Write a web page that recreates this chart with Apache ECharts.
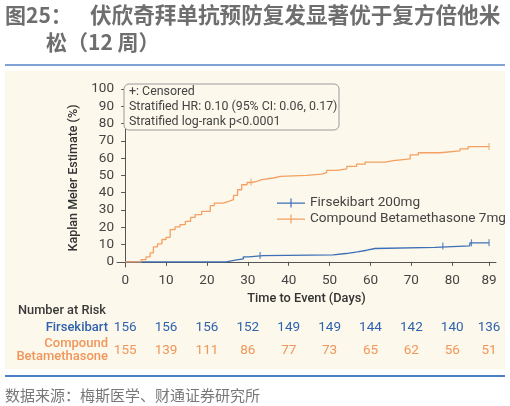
<!DOCTYPE html>
<html><head><meta charset="utf-8">
<script src="https://cdn.jsdelivr.net/npm/echarts@6/dist/echarts.min.js"></script>
<style>html,body{margin:0;padding:0;background:#fff}#c{width:510px;height:406px}</style>
</head><body><div id="c"></div>
<script>
// ---- data ----
const seriesNames = ['Firsekibart 200mg', 'Compound Betamethasone 7mg'];
// [day, KM estimate %] step points (value from that day onward)
const firsCurve = [[0,0],[24.7,1],[26.9,1.7],[28.9,2.9],[30.2,3.6],[33.8,4.0],[50.9,4.8],[54,5.8],[56.8,6.7],[59.1,7.7],[61.1,8.4],[75.8,9.2],[84.3,11],[89,11]];
const compCurve = [[0,0],[3.9,1.3],[5.1,2.9],[6.1,5.2],[6.9,8.7],[7.9,10.4],[9,12.9],[10,14.2],[11,18.6],[12.2,20.2],[13.4,21.5],[14.7,23.4],[16,25.7],[17.1,27.3],[18.7,29.2],[20.8,32.5],[21.8,34],[24,35],[25.3,36],[26.5,38.4],[27.5,41.7],[28.5,44.6],[29.8,45.9],[31,46.5],[32.2,47.5],[33.4,48.5],[36.3,49.4],[37.9,50],[44.4,50.8],[48.1,51.7],[49.3,52.9],[51.8,53.8],[54.2,55.2],[56.6,56.5],[58.7,57.7],[63.6,58.6],[65.6,59.6],[69.7,61.9],[71.7,63.1],[77,64.2],[81.9,65.4],[83.9,66.7],[89,66.7]];
const firsCensor = [[33,3.6],[77.7,9.2],[84.7,11],[89,11]];
const compCensor = [[30.8,46.2],[89,66.7]];
const xTicks = [0,10,20,30,40,50,60,70,80,89];
const yTicks = [0,10,20,30,40,50,60,70,80,90,100];
const riskFirs = [156,156,156,152,149,149,144,142,140,136];
const riskComp = [155,139,111,86,77,73,65,62,56,51];
const titleLine1a = '图25：';
const titleLine1b = '伏欣奇拜单抗预防复发显著优于复方倍他米';
const titleLine2 = '松（12 周）';
const sourceText = '数据来源：梅斯医学、财通证券研究所';
const noteLines = ['+: Censored','Stratified HR: 0.10 (95% CI: 0.06, 0.17)','Stratified log-rank p<0.0001'];

// ---- styles ----
const BLUE = '#3d6fb6', ORANGE = '#f3a062';
const BLUE_T = '#2f63ad', ORANGE_T = '#f0965a';
const FONT = 'Roboto, "Noto Sans", sans-serif';
const CJK = '"Noto Sans CJK SC", sans-serif';

const chart = echarts.init(document.getElementById('c'), null, {renderer: 'canvas'});
const legendIcon = 'path://M0,4 L28,4 L28,5.2 L0,5.2 Z M13.4,0 L14.6,0 L14.6,9 L13.4,9 Z';

const option = {
  animation: false,
  backgroundColor: '#ffffff',
  grid: {left: 117, right: 14, top: 89, bottom: 139},
  xAxis: {
    type: 'value', min: -2, max: 90.7,
    name: 'Time to Event (Days)', nameLocation: 'middle', nameGap: 25,
    nameTextStyle: {fontFamily: FONT, fontSize: 12.8, color: '#333', fontWeight: 500},
    axisLine: {show: true, lineStyle: {color: '#555', width: 1}},
    axisTick: {show: true, length: 4, customValues: xTicks, lineStyle: {color: '#555'}},
    axisLabel: {customValues: xTicks, fontFamily: FONT, fontSize: 13.5, color: '#444', margin: 7},
    splitLine: {show: false}
  },
  yAxis: {
    type: 'value', min: -3, max: 100,
    name: 'Kaplan Meier Estimate (%)', nameLocation: 'middle', nameGap: 30,
    nameTextStyle: {fontFamily: FONT, fontSize: 12.5, color: '#333', fontWeight: 500},
    axisLine: {show: true, lineStyle: {color: '#555', width: 1}},
    axisTick: {show: true, length: 4, customValues: yTicks, lineStyle: {color: '#555'}},
    axisLabel: {customValues: yTicks, fontFamily: FONT, fontSize: 13.5, color: '#444', margin: 3},
    splitLine: {show: false}
  },
  legend: {
    left: 277, top: 195, orient: 'vertical', itemGap: 0, padding: 0,
    itemWidth: 28, itemHeight: 9,
    data: seriesNames.map((n, i) => ({name: n, icon: legendIcon})),
    textStyle: {fontFamily: FONT, fontSize: 13.6, color: '#444', lineHeight: 16}
  },
  series: [
    {name: seriesNames[0], type: 'line', step: 'end', data: firsCurve, showSymbol: false,
     lineStyle: {color: BLUE, width: 1.3}, itemStyle: {color: BLUE}, z: 2},
    {name: seriesNames[1], type: 'line', step: 'end', data: compCurve, showSymbol: false,
     lineStyle: {color: ORANGE, width: 1.3}, itemStyle: {color: ORANGE}, z: 3},
    {name: 'c1', type: 'scatter', data: firsCensor, symbol: 'rect', symbolSize: [1.2, 7],
     itemStyle: {color: BLUE}, z: 4},
    {name: 'c2', type: 'scatter', data: compCensor, symbol: 'rect', symbolSize: [1.2, 7],
     itemStyle: {color: ORANGE}, z: 4}
  ]
};
chart.setOption(option);

// ---- static decoration + number-at-risk table ----
const g = [
  {type: 'rect', shape: {x: 5, y: 71, width: 500, height: 298}, style: {fill: '#fdf8ec'}, z: -10, silent: true},
  {type: 'rect', shape: {x: 5, y: 64, width: 500, height: 2}, style: {fill: '#7ea3d4'}, z: 0},
  {type: 'rect', shape: {x: 5, y: 375, width: 500, height: 2}, style: {fill: '#4a7fc6'}, z: 0},
  {type: 'text', x: 5, y: 15, style: {text: titleLine1a, font: 'bold 21px ' + CJK, fill: '#6e6e6e', textVerticalAlign: 'middle'}},
  {type: 'text', x: 90, y: 15, style: {text: titleLine1b, font: 'bold 21.6px ' + CJK, fill: '#6e6e6e', textVerticalAlign: 'middle'}},
  {type: 'text', x: 46, y: 42, style: {text: titleLine2, font: 'bold 21px ' + CJK, fill: '#6e6e6e', textVerticalAlign: 'middle'}},
  {type: 'text', x: 5, y: 395, style: {text: sourceText, font: '15px ' + CJK, fill: '#777', textVerticalAlign: 'middle'}},
  {type: 'rect', shape: {x: 124, y: 84, width: 215, height: 46, r: 5}, style: {fill: '#fdf8ec', stroke: '#9a9a9a', lineWidth: 1}, z: 10},
  {type: 'text', x: 129, y: 92, z: 11, style: {text: noteLines[0], font: '12.4px ' + FONT, fill: '#444', textVerticalAlign: 'middle'}},
  {type: 'text', x: 129, y: 107, z: 11, style: {text: noteLines[1], font: '12.4px ' + FONT, fill: '#444', textVerticalAlign: 'middle'}},
  {type: 'text', x: 129, y: 121.5, z: 11, style: {text: noteLines[2], font: '12.4px ' + FONT, fill: '#444', textVerticalAlign: 'middle'}},
  {type: 'text', x: 18, y: 311, style: {text: 'Number at Risk', font: '500 12.8px ' + FONT, fill: '#3a3a3a', textVerticalAlign: 'middle'}},
  {type: 'text', x: 108, y: 328, style: {text: 'Firsekibart', font: '500 13px ' + FONT, fill: BLUE_T, textAlign: 'right', textVerticalAlign: 'middle'}},
  {type: 'text', x: 108, y: 343.5, style: {text: 'Compound', font: '500 13px ' + FONT, fill: ORANGE_T, textAlign: 'right', textVerticalAlign: 'middle'}},
  {type: 'text', x: 108, y: 357, style: {text: 'Betamethasone', font: '500 13px ' + FONT, fill: ORANGE_T, textAlign: 'right', textVerticalAlign: 'middle'}}
];
xTicks.forEach((d, i) => {
  const px = chart.convertToPixel({xAxisIndex: 0}, d);
  g.push({type: 'text', x: px, y: 328, style: {text: String(riskFirs[i]), font: '13.5px ' + FONT, fill: BLUE_T, textAlign: 'center', textVerticalAlign: 'middle'}});
  g.push({type: 'text', x: px, y: 350.5, style: {text: String(riskComp[i]), font: '13.5px ' + FONT, fill: ORANGE_T, textAlign: 'center', textVerticalAlign: 'middle'}});
});
chart.setOption({graphic: {elements: g}});
</script>
</body></html>
